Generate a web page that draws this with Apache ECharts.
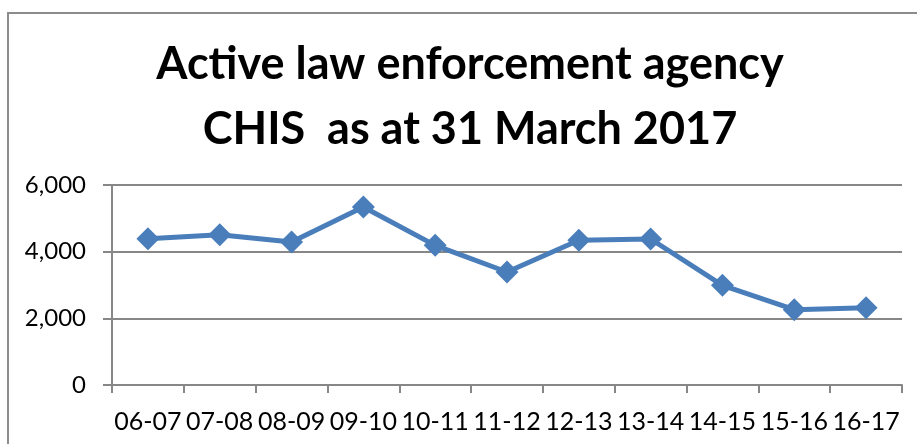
<!DOCTYPE html>
<html>
<head>
<meta charset="utf-8">
<script src="https://cdn.jsdelivr.net/npm/echarts@6/dist/echarts.min.js"></script>
<style>
  html, body { margin: 0; padding: 0; background: #fff; }
  #chart { width: 917px; height: 444px; }
</style>
</head>
<body>
<div id="chart"></div>
<script>
// financial years and active CHIS counts
const years = ['06-07', '07-08', '08-09', '09-10', '10-11', '11-12', '12-13', '13-14', '14-15', '15-16', '16-17']
const activeChis = [4390, 4510, 4290, 5340, 4190, 3390, 4340, 4380, 2990, 2260, 2320]
const titleLines = ['Active law enforcement agency', 'CHIS  as at 31 March 2017']

const chart = echarts.init(document.getElementById('chart'))

const axisGray = '#878787'
const fontFamily = 'Lato, "Open Sans", sans-serif'

chart.setOption({
  animation: false,
  graphic: [
    {
      type: 'rect',
      shape: { x: 8, y: 13, width: 1000, height: 600 },
      style: { fill: 'none', stroke: '#8c8c8c', lineWidth: 2 },
      silent: true
    },
    {
      type: 'text',
      x: 470,
      y: 32,
      style: {
        text: titleLines.join('\n'),
        fontFamily,
        fontWeight: 'bold',
        fontSize: 45,
        lineHeight: 65,
        fill: '#000',
        align: 'center',
        verticalAlign: 'top'
      }
    }
  ],
  grid: {
    left: 112,
    right: 15,
    top: 185,
    bottom: 59
  },
  xAxis: {
    type: 'category',
    data: years,
    boundaryGap: true,
    axisLine: { lineStyle: { color: axisGray, width: 2 } },
    axisTick: { show: true, length: 8, lineStyle: { color: axisGray, width: 2 } },
    axisLabel: {
      color: '#000',
      fontFamily,
      fontSize: 25,
      margin: 24,
      interval: 0
    }
  },
  yAxis: {
    type: 'value',
    min: 0,
    max: 6000,
    interval: 2000,
    axisLine: { show: true, lineStyle: { color: axisGray, width: 2 } },
    axisTick: { show: true, length: 9, lineStyle: { color: axisGray, width: 2 } },
    splitLine: { lineStyle: { color: axisGray, width: 2 } },
    axisLabel: {
      color: '#000',
      fontFamily,
      fontSize: 24,
      margin: 26,
      formatter: (v) => v.toLocaleString('en-US')
    }
  },
  series: [
    {
      type: 'line',
      data: activeChis,
      symbol: 'diamond',
      symbolSize: 23,
      lineStyle: { color: '#4a7ebb', width: 5 },
      itemStyle: { color: '#4a7ebb' }
    }
  ]
})
</script>
</body>
</html>
